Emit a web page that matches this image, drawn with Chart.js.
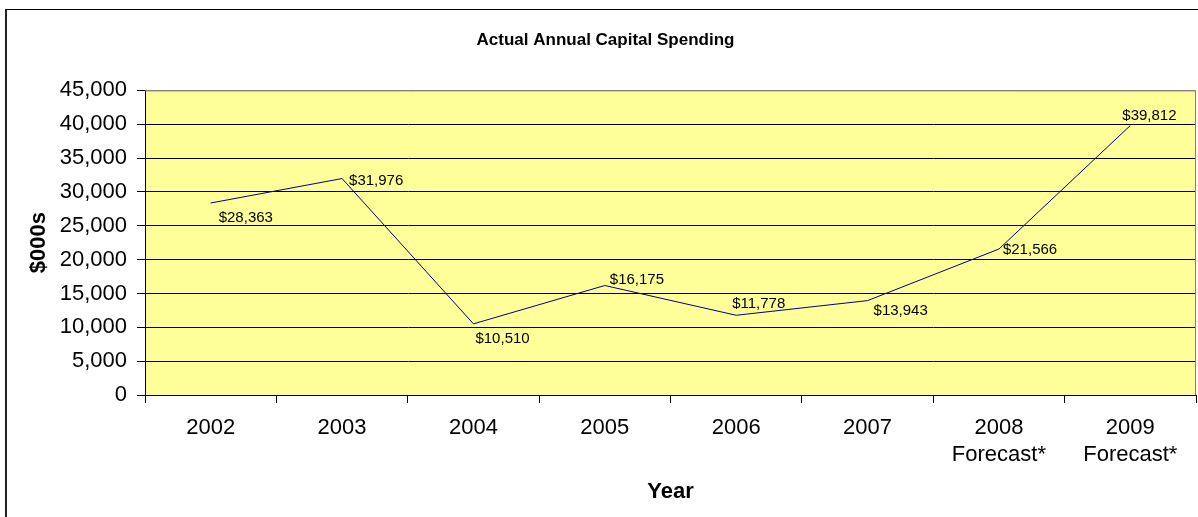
<!DOCTYPE html>
<html>
<head>
<meta charset="utf-8">
<script src="https://cdn.jsdelivr.net/npm/chart.js@4/dist/chart.umd.min.js"></script>
<style>
  html, body { margin: 0; padding: 0; background: #fff; overflow: hidden; }
  #wrap { position: relative; width: 1198px; height: 517px; }
  #frame { position: absolute; left: 5px; top: 9px; width: 1300px; height: 600px;
           border-left: 2px solid #222; border-top: 1px solid #000; pointer-events: none; }
</style>
</head>
<body>
<div id="wrap">
  <canvas id="chart" width="1198" height="517"></canvas>
  <div id="frame"></div>
</div>
<script>
// chart data
let years = [['2002'], ['2003'], ['2004'], ['2005'], ['2006'], ['2007'], ['2008', 'Forecast*'], ['2009', 'Forecast*']];
let spending = [28363, 31976, 10510, 16175, 11778, 13943, 21566, 39812];

// where each value label sits relative to its point (left edge, middle)
let labelOffsets = [[8, 15], [7, 2], [2, 15], [5, -6], [-4, -11], [6, 10], [4, 1], [-8, -10]];

const FONT = "'Liberation Sans', Arial, sans-serif";

function money(v) {
    return '$' + v.toLocaleString('en-US');
}

// yellow plot area with grey top/right border
const plotArea = {
    id: 'plotArea',
    beforeDraw(chart) {
        const a = chart.chartArea;
        const ctx = chart.ctx;
        ctx.save();
        ctx.fillStyle = '#FFFF99';
        ctx.fillRect(a.left, a.top, a.right - a.left, a.bottom - a.top);
        ctx.restore();
    },
    beforeDatasetsDraw(chart) {
        const a = chart.chartArea;
        const ctx = chart.ctx;
        ctx.save();
        ctx.strokeStyle = '#808080';
        ctx.lineWidth = 1;
        ctx.beginPath();
        ctx.moveTo(a.left, a.top + 0.5);
        ctx.lineTo(a.right - 0.5, a.top + 0.5);
        ctx.lineTo(a.right - 0.5, a.bottom);
        ctx.stroke();
        ctx.restore();
    }
};

const valueLabels = {
    id: 'valueLabels',
    afterDatasetsDraw(chart) {
        const ctx = chart.ctx;
        const meta = chart.getDatasetMeta(0);
        ctx.save();
        ctx.font = '15px ' + FONT;
        ctx.fillStyle = '#000';
        ctx.textAlign = 'left';
        ctx.textBaseline = 'middle';
        meta.data.forEach((pt, i) => {
            const off = labelOffsets[i];
            ctx.fillText(money(spending[i]), pt.x + off[0], pt.y + off[1]);
        });
        ctx.restore();
    }
};

const ctx = document.getElementById('chart').getContext('2d');
new Chart(ctx, {
    type: 'line',
    data: {
        labels: years,
        datasets: [{
            data: spending,
            borderColor: '#000080',
            borderWidth: 1,
            pointRadius: 0,
            tension: 0,
            fill: false
        }]
    },
    options: {
        responsive: false,
        animation: false,
        events: [],
        layout: { padding: { left: 15, right: 2, top: 0, bottom: 12 } },
        plugins: {
            legend: { display: false },
            tooltip: { enabled: false },
            title: {
                display: true,
                text: 'Actual Annual Capital Spending',
                color: '#000',
                font: { family: FONT, size: 17, weight: 'bold' },
                padding: { top: 30, bottom: 40 }
            }
        },
        scales: {
            x: {
                offset: true,
                grid: {
                    offset: true,
                    drawOnChartArea: false,
                    drawTicks: true,
                    tickLength: 8,
                    tickColor: '#000'
                },
                border: { color: '#000', width: 1 },
                ticks: {
                    color: '#000',
                    padding: 12,
                    maxRotation: 0,
                    font: { family: FONT, size: 22, lineHeight: 1.22 }
                },
                title: {
                    display: true,
                    text: 'Year',
                    color: '#000',
                    font: { family: FONT, size: 22, weight: 'bold' },
                    padding: { top: 0, bottom: 0 }
                },
                afterFit(s) { s.height = 110; }
            },
            y: {
                min: 0,
                max: 45000,
                grid: {
                    color: (c) => c.tick && c.tick.value === 45000 ? '#808080' : '#000',
                    tickColor: '#000',
                    tickLength: 8,
                    lineWidth: 1
                },
                border: { color: '#000', width: 1 },
                ticks: {
                    stepSize: 5000,
                    color: '#000',
                    padding: 10,
                    font: { family: FONT, size: 22 },
                    callback: (v) => v.toLocaleString('en-US')
                },
                title: {
                    display: true,
                    text: '$000s',
                    color: '#000',
                    font: { family: FONT, size: 22, weight: 'bold' },
                    padding: { top: 11, bottom: 0 }
                },
                afterFit(s) { s.width = 130; }
            }
        }
    },
    plugins: [plotArea, valueLabels]
});
</script>
</body>
</html>
